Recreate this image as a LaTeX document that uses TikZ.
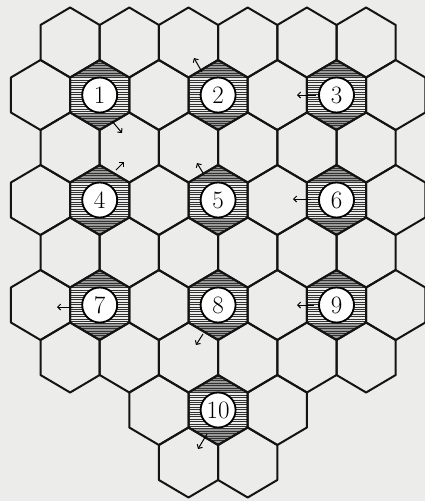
\documentclass[tikz,border=0pt]{standalone}
\usetikzlibrary{arrows.meta}
\definecolor{paper}{RGB}{236,236,234}
\tikzset{
  hexline/.style={line width=2pt, line join=round, black!92},
  hatch/.style={line width=0.9pt, black!80},
  capfill/.style={fill=black!40},
  ring/.style={circle, draw, line width=1.8pt, fill=white, minimum size=35pt, inner sep=0pt, font=\fontsize{25}{25}\selectfont},
  mover/.style={line width=1pt, -{Straight Barb[length=3pt,width=6pt]}},
}
\begin{document}
\begin{tikzpicture}[x=1pt,y=-1pt]
\useasboundingbox (0,0) rectangle (425,501);
\fill[paper] (0,0) rectangle (425,501);
\clip (0,0) rectangle (425,501);
% hatched hexes
\foreach \k/\r in {2/2, 6/2, 10/2, 2/4, 6/4, 10/4, 2/6, 6/6, 10/6, 6/8} {
  \begin{scope}[shift={({40.5+29.6*\k},{42.5+52.5*(\r-1)})}]
    \clip (0,-35) -- (29.6,-17.5) -- (29.6,17.5) -- (0,35) -- (-29.6,17.5) -- (-29.6,-17.5) -- cycle;
    \fill[capfill] (-30,-36) rectangle (30,-17.5);
    \fill[capfill] (-30,17.5) rectangle (30,36);
    \foreach \t in {-34,-31.6,...,35} \draw[hatch] (-30,\t) -- (30,\t);
  \end{scope}
}
% grid
\foreach \r/\ks in {1/{1,3,5,7,9,11}, 2/{0,2,4,6,8,10,12}, 3/{1,3,5,7,9,11}, 4/{0,2,4,6,8,10,12}, 5/{1,3,5,7,9,11}, 6/{0,2,4,6,8,10,12}, 7/{1,3,5,7,9,11}, 8/{4,6,8}, 9/{5,7}} {
  \foreach \k in \ks {
    \begin{scope}[shift={({40.5+29.6*\k},{42.5+52.5*(\r-1)})}]
      \draw[hexline] (0,-35) -- (29.6,-17.5) -- (29.6,17.5) -- (0,35) -- (-29.6,17.5) -- (-29.6,-17.5) -- cycle;
    \end{scope}
  }
}
% numbered rings
\foreach \k/\r/\n in {2/2/1, 6/2/2, 10/2/3, 2/4/4, 6/4/5, 10/4/6, 2/6/7, 6/6/8, 10/6/9, 6/8/10} {
  \node[ring] (h\n) at ({40.5+29.6*\k},{42.5+52.5*(\r-1)}) {\n};
}
% arrows
\coordinate (a1s) at (112,121); \coordinate (a1e) at (122,133);
\coordinate (a4s) at (116,170); \coordinate (a4e) at (124,162);
\coordinate (a2s) at (202,72);  \coordinate (a2e) at (194,58);
\coordinate (a3s) at (316,95);  \coordinate (a3e) at (297,95);
\coordinate (a5s) at (203,173); \coordinate (a5e) at (197,163);
\coordinate (a6s) at (311,199); \coordinate (a6e) at (293,199);
\coordinate (a7s) at (73,307);  \coordinate (a7e) at (57,307);
\coordinate (a9s) at (314,305); \coordinate (a9e) at (297,305);
\coordinate (a8s) at (203,334); \coordinate (a8e) at (196,345);
\coordinate (a10s) at (207,434); \coordinate (a10e) at (198,449);
\foreach \a in {1,2,3,4,5,6,7,8,9,10} \draw[mover] (a\a s) -- (a\a e);
\end{tikzpicture}
\end{document}
